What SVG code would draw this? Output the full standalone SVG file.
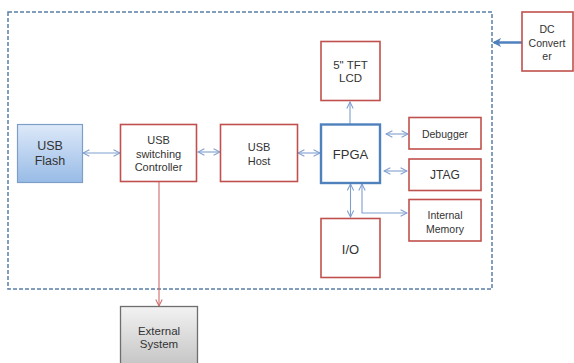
<svg xmlns="http://www.w3.org/2000/svg" width="574" height="363" viewBox="0 0 574 363">
<style>
.red{fill:#fff;stroke:#c0504d;stroke-width:1.6}
.t{font-family:"Liberation Sans","Noto Sans",sans-serif;fill:#333;text-anchor:middle;dominant-baseline:central}
.c{fill:none;stroke:#7f9fcf;stroke-width:1.1}
</style>
<defs>
<marker id="a" viewBox="0 0 10 10" refX="9" refY="5" markerWidth="8" markerHeight="8" markerUnits="userSpaceOnUse" orient="auto-start-reverse">
<path d="M1,1 L9,5 L1,9" fill="none" stroke="#7f9fcf" stroke-width="1.3"/>
</marker>
<marker id="ar" viewBox="0 0 10 10" refX="9" refY="5" markerWidth="8" markerHeight="8" markerUnits="userSpaceOnUse" orient="auto">
<path d="M1,1 L9,5 L1,9" fill="none" stroke="#d06a6a" stroke-width="1.3"/>
</marker>
<marker id="ab" viewBox="0 0 10 10" refX="8" refY="5" markerWidth="9" markerHeight="9" markerUnits="userSpaceOnUse" orient="auto">
<path d="M0,0 L10,5 L0,10 L3,5 Z" fill="#4f81bd"/>
</marker>
<linearGradient id="gb" x1="0" y1="0" x2="0" y2="1">
<stop offset="0" stop-color="#dde9f9"/><stop offset="1" stop-color="#98bbe6"/>
</linearGradient>
<linearGradient id="gg" x1="0" y1="0" x2="0" y2="1">
<stop offset="0" stop-color="#f2f2f2"/><stop offset="1" stop-color="#c4c4c4"/>
</linearGradient>
</defs>
<rect width="574" height="363" fill="#fff"/>
<rect id="boundary" x="8" y="12" width="484" height="277" fill="none" stroke="#5a7fa8" stroke-width="1.5" stroke-dasharray="4,2"/>
<g id="connectors">
<line class="c" x1="83" y1="153" x2="120" y2="153" marker-start="url(#a)" marker-end="url(#a)"/>
<line class="c" x1="198" y1="152" x2="220" y2="152" marker-start="url(#a)" marker-end="url(#a)"/>
<line class="c" x1="298" y1="153" x2="320" y2="153" marker-start="url(#a)" marker-end="url(#a)"/>
<line class="c" x1="350" y1="124" x2="350" y2="102" marker-end="url(#a)"/>
<line class="c" x1="386" y1="134" x2="408" y2="134" marker-start="url(#a)" marker-end="url(#a)"/>
<line class="c" x1="384" y1="171" x2="407" y2="171" marker-start="url(#a)" marker-end="url(#a)"/>
<line class="c" x1="350.5" y1="184" x2="350.5" y2="217" marker-start="url(#a)" marker-end="url(#a)"/>
<path class="c" d="M362,184 V213 H407" marker-start="url(#a)" marker-end="url(#a)"/>
<line x1="159" y1="182" x2="159" y2="306" stroke="#d06a6a" stroke-width="1.1" marker-end="url(#ar)"/>
<line x1="522" y1="42.5" x2="494" y2="42.5" stroke="#4f81bd" stroke-width="2.5" marker-end="url(#ab)"/>
</g>
<g id="usb-flash">
<rect x="17.5" y="124.5" width="65" height="58" fill="url(#gb)" stroke="#7d9ec9" stroke-width="1.2"/>
<text class="t" x="50" y="146" font-size="12.5">USB</text>
<text class="t" x="50" y="161" font-size="12.5">Flash</text>
</g>
<g id="usb-switching">
<rect class="red" x="120.5" y="124.5" width="76" height="57"/>
<text class="t" x="158.5" y="140" font-size="11">USB</text>
<text class="t" x="158.5" y="153.5" font-size="11">switching</text>
<text class="t" x="158.5" y="167" font-size="11">Controller</text>
</g>
<g id="usb-host">
<rect class="red" x="220.5" y="124.5" width="77" height="57"/>
<text class="t" x="259" y="147" font-size="11">USB</text>
<text class="t" x="259" y="161" font-size="11">Host</text>
</g>
<g id="fpga">
<rect x="321" y="124.5" width="59" height="58.5" fill="#fff" stroke="#4f81bd" stroke-width="2.4"/>
<text class="t" x="350.5" y="154" font-size="13">FPGA</text>
</g>
<g id="lcd">
<rect class="red" x="321" y="41.5" width="59" height="59"/>
<text class="t" x="350.5" y="64.5" font-size="11.5">5" TFT</text>
<text class="t" x="350.5" y="78" font-size="11.5">LCD</text>
</g>
<g id="debugger">
<rect class="red" x="409" y="117.5" width="72" height="31.5"/>
<text class="t" x="445" y="134" font-size="10.5">Debugger</text>
</g>
<g id="jtag">
<rect class="red" x="409" y="159" width="72" height="31.5"/>
<text class="t" x="445" y="175" font-size="12">JTAG</text>
</g>
<g id="memory">
<rect class="red" x="409" y="199.5" width="72" height="41.5"/>
<text class="t" x="445" y="215" font-size="10.5">Internal</text>
<text class="t" x="445" y="228.5" font-size="10.5">Memory</text>
</g>
<g id="io">
<rect class="red" x="321" y="218.5" width="59" height="59"/>
<text class="t" x="350.5" y="249" font-size="13">I/O</text>
</g>
<g id="external">
<rect x="120.5" y="306.5" width="77" height="60" fill="url(#gg)" stroke="#6e6e6e" stroke-width="1.3"/>
<text class="t" x="159" y="331" font-size="11.5">External</text>
<text class="t" x="159" y="344" font-size="11.5">System</text>
</g>
<g id="dc-converter">
<rect class="red" x="522" y="12" width="51" height="59"/>
<text class="t" x="547" y="29" font-size="10.5">DC</text>
<text class="t" x="547" y="43" font-size="10.5">Convert</text>
<text class="t" x="547" y="56" font-size="10.5">er</text>
</g>
</svg>
